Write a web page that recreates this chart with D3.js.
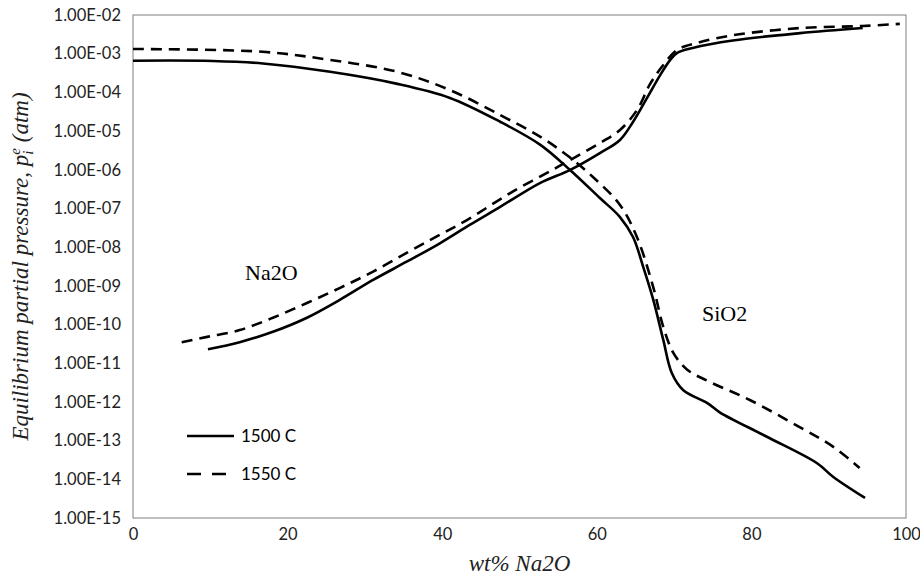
<!DOCTYPE html>
<html>
<head>
<meta charset="utf-8">
<script src="https://cdn.jsdelivr.net/npm/d3@7"></script>
<style>
  html, body { margin: 0; padding: 0; background: #fff; }
  svg { display: block; }
</style>
</head>
<body>
<svg id="chart" width="920" height="579"></svg>
<script>
// ---------- data ----------
// x = wt% Na2O, y = equilibrium partial pressure (atm)
const sio2_1500_x = [0, 10.3, 16.8, 25.5, 34.2, 41.0, 47.5, 52.7, 56.5, 60.4, 63.0, 64.7, 66.0, 67.3, 68.6, 69.7, 71.2, 74.3, 75.9, 82.0, 88.5, 90.6, 94.7];
const sio2_1500_y = [6.6e-4, 6.5e-4, 5.6e-4, 3.4e-4, 1.66e-4, 7.2e-5, 1.74e-5, 4.4e-6, 1.0e-6, 1.86e-7, 6.0e-8, 1.8e-8, 3.1e-9, 4.4e-10, 4.0e-11, 5.6e-12, 2.0e-12, 9.3e-13, 5.4e-13, 1.26e-13, 2.6e-14, 1.15e-14, 3.3e-15];

const sio2_1550_x = [0, 16.8, 25.5, 34.2, 41.0, 47.5, 52.7, 56.5, 59.5, 63.0, 65.2, 67.3, 68.6, 69.9, 71.7, 74.6, 79.8, 86.3, 90.6, 94.0];
const sio2_1550_y = [1.32e-3, 1.12e-3, 6.9e-4, 3.4e-4, 1.15e-4, 2.6e-5, 7.1e-6, 2.1e-6, 6.5e-7, 1.23e-7, 1.8e-8, 9.3e-10, 8.7e-11, 1.86e-11, 6.8e-12, 3.3e-12, 1.12e-12, 2.2e-13, 6.9e-14, 1.95e-14];

const na2o_1500_x = [9.7, 13.8, 18.1, 22.5, 26.8, 31.0, 35.4, 39.7, 43.5, 47.5, 52.7, 56.5, 60.4, 63.0, 64.7, 66.5, 68.2, 69.5, 70.4, 72.4, 77.6, 86.3, 94.4];
const na2o_1500_y = [2.3e-11, 3.5e-11, 6.5e-11, 1.5e-10, 4.4e-10, 1.4e-9, 4.2e-9, 1.26e-8, 3.7e-8, 1.1e-7, 4.6e-7, 9.8e-7, 2.7e-6, 5.9e-6, 1.74e-5, 7.2e-5, 2.8e-4, 6.9e-4, 1.05e-3, 1.41e-3, 2.2e-3, 3.4e-3, 4.6e-3];

const na2o_1550_x = [6.3, 9.6, 13.8, 18.1, 22.5, 26.8, 31.0, 35.4, 39.3, 43.2, 48.8, 54.9, 60.4, 63.0, 65.2, 66.9, 68.6, 70.4, 73.0, 77.6, 86.3, 94.4, 99.2];
const na2o_1550_y = [3.5e-11, 4.8e-11, 7.2e-11, 1.5e-10, 3.6e-10, 8.9e-10, 2.3e-9, 7.1e-9, 1.9e-8, 5.0e-8, 2.5e-7, 1.17e-6, 4.9e-6, 1.07e-5, 3.5e-5, 1.66e-4, 5.1e-4, 1.26e-3, 1.9e-3, 3.0e-3, 4.6e-3, 5.2e-3, 5.9e-3];

const xTicks = [0, 20, 40, 60, 80, 100];
const yTickExps = [-15, -14, -13, -12, -11, -10, -9, -8, -7, -6, -5, -4, -3, -2];
const yTickLabels = ["1.00E-15", "1.00E-14", "1.00E-13", "1.00E-12", "1.00E-11", "1.00E-10", "1.00E-09", "1.00E-08", "1.00E-07", "1.00E-06", "1.00E-05", "1.00E-04", "1.00E-03", "1.00E-02"];
const seriesNames = ["1500 C", "1550 C"];
const curveLabels = ["Na2O", "SiO2"];

// ---------- layout ----------
const W = 920, H = 579;
const margin = { left: 133, top: 15, right: 14, bottom: 61 };
const iw = W - margin.left - margin.right;
const ih = H - margin.top - margin.bottom;

const svg = d3.select("#chart");
const g = svg.append("g").attr("transform", `translate(${margin.left},${margin.top})`);

const x = d3.scaleLinear().domain([0, 100]).range([0, iw]);
const y = d3.scaleLog().domain([1e-15, 1e-2]).range([ih, 0]);

const tickFont = "Lato, 'Open Sans', sans-serif";
const serif = "'Liberation Serif', 'DejaVu Serif', serif";

// frame
g.append("rect").attr("x", 0).attr("y", 0).attr("width", iw).attr("height", ih)
  .attr("fill", "none").attr("stroke", "#7f7f7f").attr("stroke-width", 1);

// x axis
const xAxis = d3.axisBottom(x).tickValues(xTicks).tickSize(0).tickPadding(10).tickFormat(d3.format("d"));
const xg = g.append("g").attr("transform", `translate(0,${ih})`).call(xAxis);
xg.select(".domain").remove();
xg.selectAll("text").attr("font-family", tickFont).attr("font-size", 16.5).attr("fill", "#222");

// y axis
const yTickVals = yTickExps.map(e => Math.pow(10, e));
const yAxis = d3.axisLeft(y).tickValues(yTickVals).tickSize(0).tickPadding(12)
  .tickFormat((d, i) => yTickLabels[i]);
const yg = g.append("g").call(yAxis);
yg.select(".domain").remove();
yg.selectAll("text").attr("font-family", tickFont).attr("font-size", 16.5).attr("fill", "#222");

// lines
const line = d3.line().x(d => x(d[0])).y(d => y(d[1])).curve(d3.curveCatmullRom.alpha(0.5));
const zip = (a, b) => a.map((v, i) => [v, b[i]]);
const dash = "11,7";
const series = [
  { data: zip(sio2_1500_x, sio2_1500_y), dash: null },
  { data: zip(na2o_1500_x, na2o_1500_y), dash: null },
  { data: zip(sio2_1550_x, sio2_1550_y), dash: dash },
  { data: zip(na2o_1550_x, na2o_1550_y), dash: dash }
];
g.selectAll("path.series").data(series).enter().append("path")
  .attr("class", "series")
  .attr("d", d => line(d.data))
  .attr("fill", "none")
  .attr("stroke", "#000")
  .attr("stroke-width", 2.6)
  .attr("stroke-dasharray", d => d.dash);

// curve labels
g.append("text").attr("x", x(14.5)).attr("y", y(1.4e-9)).text(curveLabels[0])
  .attr("font-family", serif).attr("font-size", 22).attr("fill", "#000");
g.append("text").attr("x", x(73.6)).attr("y", y(1.2e-10)).text(curveLabels[1])
  .attr("font-family", serif).attr("font-size", 22).attr("fill", "#000");

// legend
const leg = svg.append("g").attr("transform", "translate(187,436)");
seriesNames.forEach((name, i) => {
  const row = leg.append("g").attr("transform", `translate(0,${i * 38})`);
  row.append("line").attr("x1", 0).attr("x2", 47).attr("y1", 0).attr("y2", 0)
    .attr("stroke", "#000").attr("stroke-width", 2.6)
    .attr("stroke-dasharray", i === 1 ? "14,11" : null);
  row.append("text").attr("x", 54).attr("y", 0).attr("dy", "0.35em").text(name)
    .attr("font-family", tickFont).attr("font-size", 17).attr("fill", "#000");
});

// axis titles
svg.append("text").attr("x", margin.left + iw / 2).attr("y", 571)
  .attr("text-anchor", "middle").attr("font-family", serif).attr("font-style", "italic")
  .attr("font-size", 23).attr("fill", "#222").text("wt% Na2O");

const yt = svg.append("text").attr("transform", `translate(28,${margin.top + ih / 2}) rotate(-90)`)
  .attr("text-anchor", "middle").attr("font-family", serif).attr("font-style", "italic")
  .attr("font-size", 23).attr("fill", "#222");
yt.append("tspan").text("Equilibrium partial pressure, ");
yt.append("tspan").text("p");
yt.append("tspan").attr("font-size", 15).attr("dy", 5).text("i");
yt.append("tspan").attr("font-size", 15).attr("dy", -13).attr("dx", -4).text("e");
yt.append("tspan").attr("dy", 8).text(" (atm)");
</script>
</body>
</html>
